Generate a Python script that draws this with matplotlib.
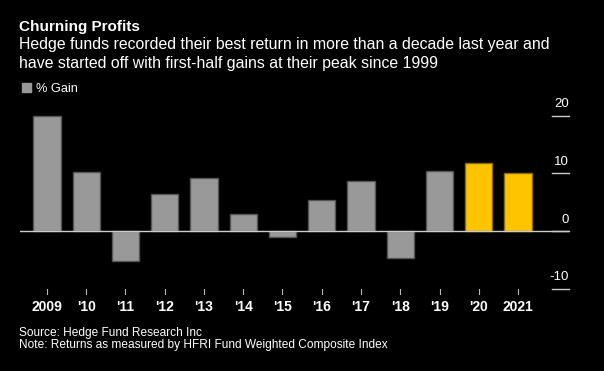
import numpy as np
import matplotlib
matplotlib.use("Agg")
import matplotlib.pyplot as plt

plt.rcParams['font.family'] = ['Liberation Sans', 'DejaVu Sans']

years = ["2009", "'10", "'11", "'12", "'13", "'14", "'15", "'16", "'17", "'18", "'19", "'20", "2021"]
gains = [19.98, 10.25, -5.25, 6.36, 9.13, 2.98, -1.12, 5.44, 8.59, -4.75, 10.44, 11.83, 10.1]
highlight = [False] * 11 + [True, True]
yticks = [-10, 0, 10, 20]

bg = "black"
fig = plt.figure(figsize=(6.04, 3.71), dpi=100, facecolor=bg)
ax = fig.add_axes([0.0331, 0.214, 0.909, 0.490], facecolor=bg)

x = np.arange(len(years))
fills = ["#ffc400" if h else "#999999" for h in highlight]
edges = ["#8c6d00" if h else "#555555" for h in highlight]
ax.bar(x, gains, width=0.69, color=fills, edgecolor=edges, linewidth=1, zorder=2)

ax.set_xlim(-0.688, 13.30)
ax.set_ylim(-10.5, 21)
ax.axhline(0, color="#cccccc", linewidth=1, zorder=3)

for s in ax.spines.values():
    s.set_visible(False)
ax.set_yticks([])
ax.set_xticks([])

# right side ticks, labels sit above them
for t in yticks:
    ax.plot([12.86, 13.30], [t, t], color="#cccccc", linewidth=1, clip_on=False, zorder=3)
    ax.text(13.30, t + 1.46, str(t), color="white", fontsize=9.5, ha="right", va="baseline")

# bottom ticks and year labels
for xi, lab in zip(x, years):
    ax.plot([xi, xi], [-10.0, -10.87], color="#bbbbbb", linewidth=0.8, clip_on=False)
    ax.text(xi, -13.81, lab, color="white", fontsize=10, ha="center", va="baseline", fontweight="bold")

fig.text(0.032, 0.9164, "Churning Profits", color="white", fontsize=11, fontweight="bold",
         va="baseline")
fig.text(0.032, 0.867, "Hedge funds recorded their best return in more than a decade last year and",
         color="white", fontsize=11.4, va="baseline")
fig.text(0.032, 0.816, "have started off with first-half gains at their peak since 1999",
         color="white", fontsize=11.4, va="baseline")
fig.patches.append(plt.Rectangle((0.0364, 0.7530), 0.0144, 0.0226, transform=fig.transFigure,
                                 color="#999999", figure=fig))
fig.text(0.0596, 0.753, "% Gain", color="white", fontsize=9.2, va="baseline")

fig.text(0.032, 0.0951, "Source: Hedge Fund Research Inc", color="white", fontsize=8.6, va="baseline")
fig.text(0.032, 0.0612, "Note: Returns as measured by HFRI Fund Weighted Composite Index",
         color="white", fontsize=8.6, va="baseline")

fig.savefig("out.png", dpi=100, facecolor=bg)
